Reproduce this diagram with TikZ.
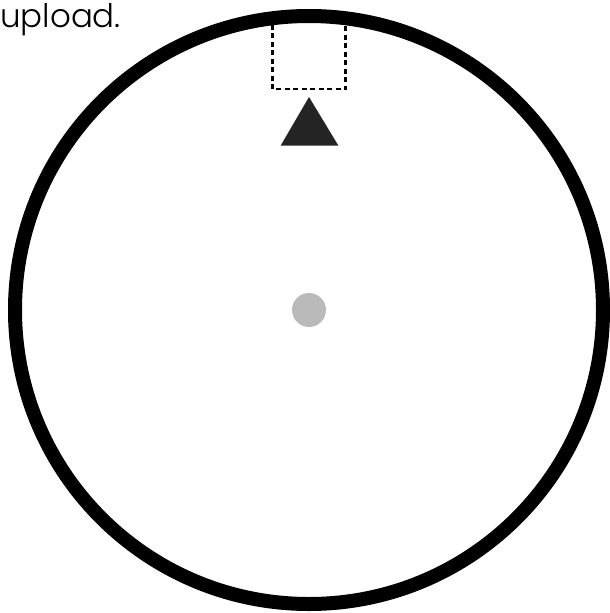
\documentclass[tikz,border=0pt]{standalone}
\usepackage{fontspec}
\setmainfont{Poppins}[UprightFont=* Light]
\usepackage{tikz}
\tikzset{
  rim/.style={black, line width=14pt},
  slot/.style={black, line width=2.5pt, dash pattern=on 5pt off 3.5pt},
  pointer/.style={fill=black!86, draw=none},
  hub/.style={circle, fill=black!27, minimum size=34pt, inner sep=0pt}
}
\begin{document}
\begin{tikzpicture}[x=1pt,y=-1pt]
				\useasboundingbox (0,0) rectangle (610,613);
				\node[anchor=base west, inner sep=0pt, font=\fontsize{32.5}{32.5}\selectfont] (label) at (0,27.5) {upload.};
				\coordinate (slotleft) at (272.5,16);
				\coordinate (slotright) at (345.5,89);
				\draw[slot] (slotleft) |- (slotright) -- (slotright |- slotleft);
				\draw[rim] (309,310) circle (294);
				\fill[pointer] (309,97) -- (338.3,145.5) -- (280.7,145.5) -- cycle;
				\node[hub] (center) at (309,310) {};
			\end{tikzpicture}
\end{document}
